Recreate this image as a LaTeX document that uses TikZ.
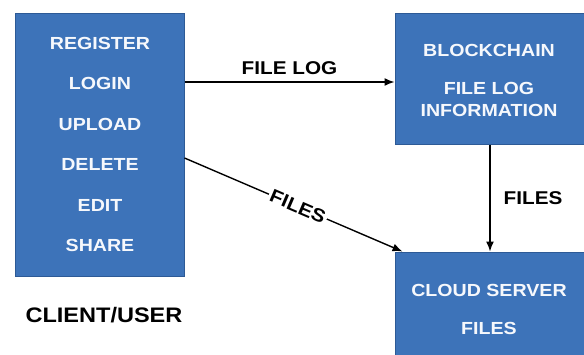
\documentclass[tikz,border=0pt]{standalone}
\usepackage{fontspec}
\newfontfamily\lab{Liberation Sans}[FakeStretch=1.12]
\usetikzlibrary{arrows.meta}
\definecolor{boxblue}{RGB}{61,115,185}
\definecolor{boxedge}{RGB}{45,90,150}
\definecolor{boxtext}{RGB}{246,248,252}
\begin{document}
\begin{tikzpicture}[x=1pt,y=-1pt,
  bluebox/.style={draw=boxedge,line width=1pt,fill=boxblue,inner sep=0pt},
  intext/.style={text=boxtext,font=\lab\bfseries\fontsize{17.5}{20}\selectfont,inner sep=0pt,anchor=center},
  arrlabel/.style={text=black,font=\lab\bfseries\fontsize{18.5}{21}\selectfont,inner sep=1pt},
  conn/.style={line width=1.4pt,-{Latex[length=10pt,width=8pt]}}]
\useasboundingbox (0,0) rectangle (584,354);
\fill[white] (0,0) rectangle (584,354);
% boxes
\node[bluebox,minimum width=169pt,minimum height=263pt] (client) at (99.5,144.5) {};
\node[bluebox,minimum width=190pt,minimum height=131pt] (block) at (490,78.5) {};
\node[bluebox,minimum width=190pt,minimum height=106pt] (cloud) at (490,305) {};
% client texts
\node[intext] (t1) at (100,43) {REGISTER};
\node[intext] (t2) at (100,83.5) {LOGIN};
\node[intext] (t3) at (100,124) {UPLOAD};
\node[intext] (t4) at (100,164.5) {DELETE};
\node[intext] (t5) at (100,205) {EDIT};
\node[intext] (t6) at (100,245) {SHARE};
\node[text=black,font=\lab\bfseries\fontsize{21}{24}\selectfont,inner sep=0pt] (user) at (104,315) {CLIENT/USER};
% block texts
\node[intext] (b1) at (489,50) {BLOCKCHAIN};
\node[intext] (b2) at (489,88) {FILE LOG};
\node[intext] (b3) at (489,110) {INFORMATION};
% cloud texts
\node[intext] (c1) at (489,290) {CLOUD SERVER};
\node[intext] (c2) at (489,328) {FILES};
% connectors
\coordinate (p1) at (client.east |- 0,82);
\coordinate (p2) at (block.west |- 0,82);
\draw[conn] (p1) -- node[arrlabel,above=6pt] (l1) {FILE LOG} (p2);
\coordinate (d1) at (client.east |- 0,158);
\coordinate (d2) at ([xshift=8pt]cloud.north west);
\draw[conn] (d1) -- node[arrlabel,sloped,fill=white,inner sep=2pt,pos=0.52] (l2) {FILES} (d2);
\draw[conn] (block.south) -- node[arrlabel,right=12pt] (l3) {FILES} (cloud.north);
\end{tikzpicture}
\end{document}
